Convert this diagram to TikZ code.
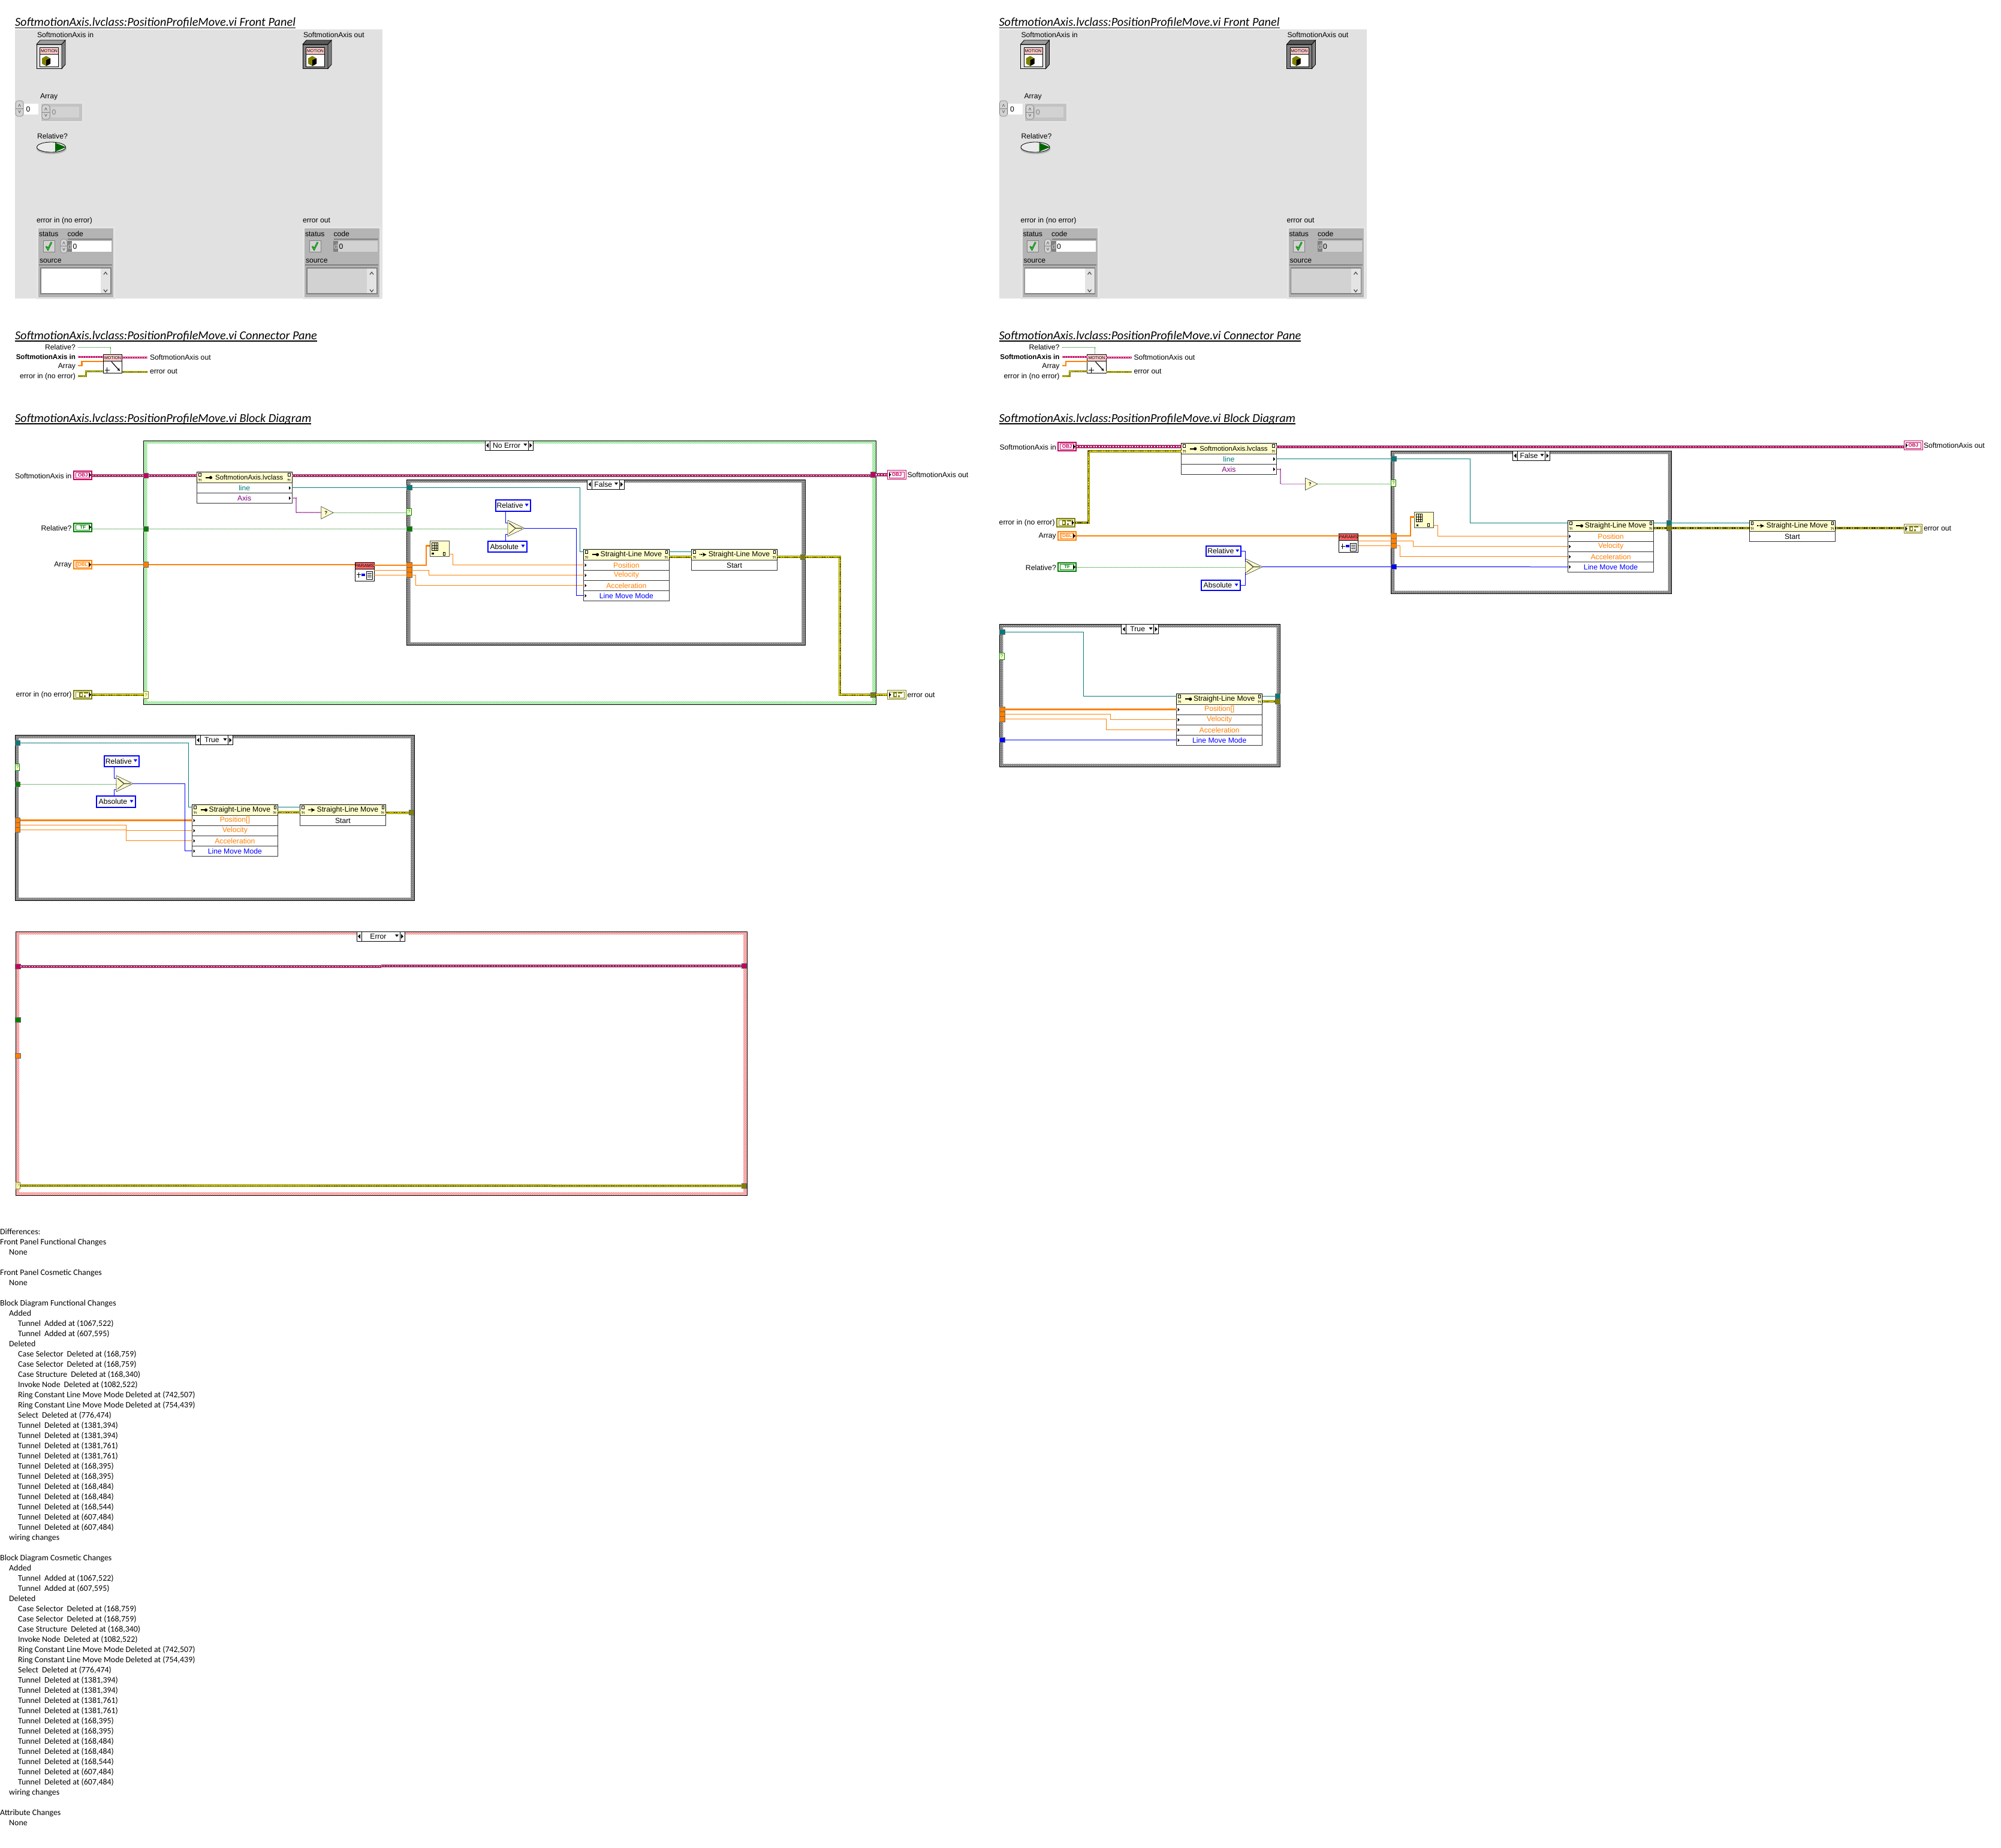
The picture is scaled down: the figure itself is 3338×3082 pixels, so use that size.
\documentclass[tikz,border=0pt]{standalone}
\usepackage{fontspec}
\setmainfont{Liberation Sans}
\newfontfamily\calfam{Carlito}
\usetikzlibrary{patterns}
\definecolor{cpink}{HTML}{C4005F}
\definecolor{colive}{HTML}{808000}
\definecolor{cgreen}{HTML}{008000}
\definecolor{corange}{HTML}{FF8000}
\definecolor{cteal}{HTML}{007C7C}
\definecolor{cblue}{HTML}{0000FF}
\definecolor{cpurple}{HTML}{800080}
\definecolor{cyell}{HTML}{FFFFCC}
\definecolor{panelgray}{HTML}{E1E1E1}
\definecolor{clustergray}{HTML}{B4B4B4}
\definecolor{fieldgray}{HTML}{D2D2D2}
\definecolor{hatchgreen}{HTML}{6CC46C}
\definecolor{hatchred}{HTML}{F06060}
\newcommand{\lblfont}{\fontsize{12.2}{14}\selectfont}
\newcommand{\clsfont}{\fontsize{11.4}{14}\selectfont}
\newcommand{\tinyfont}{\fontsize{8}{9}\selectfont}
\newcommand{\hdtxt}{SoftmotionAxis.lvclass:PositionProfileMove.vi}
\tikzset{
  lbl/.style={font=\lblfont, inner sep=0, outer sep=0},
  heading/.style={font=\calfam\itshape\fontsize{20.3}{24}\selectfont, inner sep=0, outer sep=0},
  headrule/.style={line width=1.5pt},
  difftext/.style={font=\calfam\fontsize{13.9}{17}\selectfont, inner sep=0, align=left},
  classwire/.style={draw=gray, line width=5.5pt, postaction={draw=cpink, line width=3.5pt}, postaction={draw=white, line width=1.2pt, dash pattern=on 2pt off 2.6pt}},
  classthin/.style={draw=cpink, line width=3pt, postaction={draw=white, line width=1pt, dash pattern=on 2pt off 2pt}},
  errwire/.style={draw=colive, line width=4pt, postaction={draw=yellow, line width=2pt}, postaction={draw=black, line width=1.2pt, dash pattern=on 1.4pt off 1.4pt}},
  errthin/.style={draw=colive, line width=3pt, postaction={draw=yellow, line width=1pt, dash pattern=on 1.4pt off 1.4pt}},
  wbool/.style={draw=cgreen, line width=1pt, dash pattern=on 1pt off 1pt},
  wdbl/.style={draw=corange, line width=1pt},
  warr/.style={draw=corange, line width=2.5pt},
  wteal/.style={draw=cteal, line width=1pt},
  wblue/.style={draw=cblue, line width=1pt},
  waxis/.style={draw=cpurple, line width=1.8pt, dash pattern=on 1pt off 1pt},
  tunnel/.style={draw=black!60, fill=#1, line width=.6pt, minimum width=8.5, minimum height=8.5, inner sep=0, outer sep=0},
  qtunnel/.style={draw=#1, fill=cyell, line width=.8pt, minimum width=7.5, minimum height=11.5, inner sep=0, outer sep=0, font=\tinyfont, text=#1},
  term/.style={draw=#1, fill=white, line width=2pt, minimum width=30, minimum height=14, inner sep=0, outer sep=1pt, text=#1, font=\tinyfont\bfseries},
  termo/.style={draw=#1, fill=white, line width=1pt, minimum width=30.5, minimum height=14.5, inner sep=0, outer sep=.5pt, text=#1, font=\tinyfont\bfseries},
  invhead/.style={draw=black, fill=cyell, line width=.9pt, minimum height=18, inner sep=0, outer sep=0, font=\lblfont},
  invrow/.style={draw=black!80, fill=white, line width=.9pt, minimum height=17, inner sep=0, outer sep=0, font=\lblfont},
  selbox/.style={draw=black, fill=white, line width=.8pt, minimum height=16, inner sep=0, outer sep=0, font=\lblfont},
  enumbox/.style={draw=cblue, fill=white, line width=2pt, minimum height=16.5, inner sep=0, outer sep=1pt, font=\lblfont},
  invisbox/.style={inner sep=0, outer sep=0},
  greenband/.style={fill=green!18!white, postaction={pattern=north east lines, pattern color=hatchgreen}},
  grayband/.style={fill=black!55, postaction={pattern=crosshatch dots, pattern color=white}},
  redband/.style={fill=red!18!white, postaction={pattern=north east lines, pattern color=hatchred}},
}
% case structure border
\newcommand{\caseframe}[5]{%
  \path[#5, even odd rule] (#1,#2) rectangle (#3,#4) ({#1+6},{#2+5}) rectangle ({#3-6},{#4-5});
  \draw[black, line width=1pt] (#1,#2) rectangle (#3,#4);
}
% case selector label
\newcommand{\caseselect}[5]{%
  \node[selbox, anchor=north west, minimum width=#3-#2] (#1) at (#2,#4) {#5\hspace*{8pt}};
  \draw[black, line width=.8pt] ([xshift=8pt]#1.north west) -- ([xshift=8pt]#1.south west);
  \draw[black, line width=.8pt] ([xshift=-8pt]#1.north east) -- ([xshift=-8pt]#1.south east);
  \fill[black] ([xshift=2pt]#1.west) -- ([xshift=6pt,yshift=4pt]#1.west) -- ([xshift=6pt,yshift=-4pt]#1.west) -- cycle;
  \fill[black] ([xshift=-2pt]#1.east) -- ([xshift=-6pt,yshift=4pt]#1.east) -- ([xshift=-6pt,yshift=-4pt]#1.east) -- cycle;
  \fill[black] ([xshift=-16pt,yshift=3pt]#1.east) -- ([xshift=-10pt,yshift=3pt]#1.east) -- ([xshift=-13pt,yshift=-1pt]#1.east) -- cycle;
}
% property or invoke node, header
\newcommand{\invhd}[5]{%
  \node[invhead, anchor=north west, minimum width=#3-#2] (#1) at (#2,#4) {\hspace*{16pt}#5};
  \draw[black, fill=white, line width=.5pt] ([xshift=3pt,yshift=7pt]#1.west) rectangle ([xshift=6.5pt,yshift=2.5pt]#1.west);
  \draw[black, fill=white, line width=.5pt] ([xshift=-6.5pt,yshift=7pt]#1.east) rectangle ([xshift=-3pt,yshift=2.5pt]#1.east);
  \node[invisbox, font=\fontsize{6}{6}\bfseries\selectfont] (#1l) at ([xshift=5pt,yshift=-5pt]#1.west) {?!};
  \node[invisbox, font=\fontsize{6}{6}\bfseries\selectfont] (#1r) at ([xshift=-5pt,yshift=-5pt]#1.east) {?!};
}
\newcommand{\keyicon}[1]{%
  \draw[black, line width=2pt] ([xshift=14pt]#1.west) -- ([xshift=21pt]#1.west);
  \fill[black] ([xshift=23pt]#1.west) circle (2.6);
}
\newcommand{\runicon}[1]{%
  \draw[black, line width=2pt, dash pattern=on 1.5pt off 1pt] ([xshift=13pt]#1.west) -- ([xshift=18pt]#1.west);
  \draw[black, line width=2pt, -stealth] ([xshift=18pt]#1.west) -- ([xshift=25pt]#1.west);
}
\newcommand{\invrw}[6]{%
  \node[invrow, anchor=north west, minimum width=#3-#2, text=#5] (#1) at (#2,#4) {#6};
}
\newcommand{\rowin}[1]{\fill[black] ([xshift=2pt,yshift=3pt]#1.west) -- ([xshift=5pt]#1.west) -- ([xshift=2pt,yshift=-3pt]#1.west) -- cycle;}
\newcommand{\rowout}[1]{\fill[black] ([xshift=-5pt,yshift=3pt]#1.east) -- ([xshift=-2pt]#1.east) -- ([xshift=-5pt,yshift=-3pt]#1.east) -- cycle;}
% the four rows of a straight-line move
\newcommand{\moverows}[5]{%
  \invrw{#1p}{#2}{#3}{#4}{corange}{#5}\rowin{#1p}
  \invrw{#1v}{#2}{#3}{#4+17}{corange}{Velocity}\rowin{#1v}
  \invrw{#1a}{#2}{#3}{#4+34}{corange}{Acceleration}\rowin{#1a}
  \invrw{#1m}{#2}{#3}{#4+51}{cblue}{Line Move Mode}\rowin{#1m}
}
% terminals
\newcommand{\termin}[5]{%
  \node[term=#4] (#1) at (#2,#3) {#5};
  \draw[#4, line width=.8pt] ([xshift=-11.5pt,yshift=-4.5pt]#1.center) rectangle ([xshift=11.5pt,yshift=4.5pt]#1.center);
  \fill[black] ([xshift=10pt,yshift=3.5pt]#1.center) -- ([xshift=14pt]#1.center) -- ([xshift=10pt,yshift=-3.5pt]#1.center) -- cycle;
}
\newcommand{\termout}[5]{%
  \node[termo=#4] (#1) at (#2,#3) {#5};
  \draw[#4, line width=.6pt] ([xshift=-12.5pt,yshift=-5pt]#1.center) rectangle ([xshift=12.5pt,yshift=5pt]#1.center);
  \fill[black] ([xshift=-13pt,yshift=3.5pt]#1.center) -- ([xshift=-9.5pt]#1.center) -- ([xshift=-13pt,yshift=-3.5pt]#1.center) -- cycle;
}
\newcommand{\errglyph}[1]{%
  \fill[colive] ([xshift=-6pt,yshift=-4pt]#1.center) rectangle ([xshift=0pt,yshift=4pt]#1.center);
  \fill[white] ([xshift=-4.5pt,yshift=-2pt]#1.center) rectangle ([xshift=-1.5pt,yshift=2pt]#1.center);
  \fill[colive] ([xshift=2pt,yshift=2pt]#1.center) rectangle ([xshift=9pt,yshift=4pt]#1.center);
  \fill[colive] ([xshift=2pt,yshift=-4pt]#1.center) rectangle ([xshift=5pt,yshift=-1pt]#1.center);
}
% primitive triangle and select
\newcommand{\prim}[5]{%
  \node[invisbox, anchor=north west, minimum width=#4-#2, minimum height=#5-#3] (#1) at (#2,#3) {};
  \draw[black!70, fill=cyell, line width=.7pt] (#1.north west) -- (#1.east) -- (#1.south west) -- cycle;
  \node[invisbox, font=\tinyfont\bfseries] (#1q) at ([xshift=8pt]#1.west) {?};
}
\newcommand{\selectprim}[5]{%
  \node[invisbox, anchor=north west, minimum width=#4-#2, minimum height=#5-#3] (#1) at (#2,#3) {};
  \draw[black!70, fill=cyell, line width=.7pt] (#1.north west) -- (#1.east) -- (#1.south west) -- cycle;
  \draw[black!70, line width=1.5pt] ([xshift=2pt,yshift=9pt]#1.west) -- ([xshift=13pt]#1.west) -- ([xshift=24pt]#1.west);
  \draw[black!70, line width=1pt] ([xshift=2pt,yshift=-9pt]#1.west) -- ([xshift=13pt]#1.west);
}
\newcommand{\ringconst}[6]{%
  \node[enumbox, anchor=north west, minimum width=#4-#2, minimum height=#5-#3] (#1) at (#2,#3) {#6\hspace*{10pt}};
  \fill[cblue] ([xshift=-10pt,yshift=3pt]#1.east) -- ([xshift=-4pt,yshift=3pt]#1.east) -- ([xshift=-7pt,yshift=-1.5pt]#1.east) -- cycle;
}
% parameter bundle and array glyph
\newcommand{\paramnode}[3]{%
  \node[draw=black, fill=white, line width=.8pt, anchor=north west, minimum width=32, minimum height=31.4, inner sep=0, outer sep=0] (#1) at (#2,#3) {};
  \node[draw=black, fill=red!60!white, line width=.8pt, anchor=north, minimum width=32, minimum height=11.4, inner sep=0, outer sep=0, font=\fontsize{7.6}{8}\selectfont] (#1top) at (#1.north) {PARAMS};
  \draw[black, line width=.8pt] ([xshift=-13pt,yshift=-5pt]#1.center) -- ([xshift=-6pt,yshift=-5pt]#1.center) ([xshift=-10pt,yshift=-1pt]#1.center) -- ([xshift=-10pt,yshift=-10pt]#1.center);
  \fill[cblue] ([xshift=-5pt,yshift=-3pt]#1.center) rectangle ([xshift=1pt,yshift=-7pt]#1.center);
  \draw[black, fill=white, line width=.6pt] ([xshift=3pt,yshift=0pt]#1.center) rectangle ([xshift=13pt,yshift=-13pt]#1.center);
  \draw[black, line width=.7pt] ([xshift=4.5pt,yshift=-3pt]#1.center) -- ([xshift=11.5pt,yshift=-3pt]#1.center) ([xshift=4.5pt,yshift=-6pt]#1.center) -- ([xshift=11.5pt,yshift=-6pt]#1.center) ([xshift=4.5pt,yshift=-9pt]#1.center) -- ([xshift=11.5pt,yshift=-9pt]#1.center);
}
\newcommand{\arrnode}[3]{%
  \node[draw=black!70, fill=cyell, line width=.8pt, anchor=north west, minimum width=32, minimum height=26.5, inner sep=0, outer sep=0] (#1) at (#2,#3) {};
  \draw[black, line width=.5pt] ([xshift=-13pt,yshift=10pt]#1.center) rectangle ([xshift=-3pt,yshift=-3pt]#1.center) ([xshift=-9pt,yshift=10pt]#1.center) -- ([xshift=-9pt,yshift=-3pt]#1.center) ([xshift=-6pt,yshift=10pt]#1.center) -- ([xshift=-6pt,yshift=-3pt]#1.center) ([xshift=-13pt,yshift=5pt]#1.center) -- ([xshift=-3pt,yshift=5pt]#1.center) ([xshift=-13pt,yshift=1pt]#1.center) -- ([xshift=-3pt,yshift=1pt]#1.center);
  \fill[black] ([xshift=-13pt,yshift=-7pt]#1.center) rectangle ([xshift=-9.5pt,yshift=-10pt]#1.center);
  \draw[black, line width=.7pt] ([xshift=6pt,yshift=-6pt]#1.center) rectangle ([xshift=9pt,yshift=-11pt]#1.center);
}
% front panel pieces
\newcommand{\objicon}[4]{%
  \node[invisbox, anchor=north west, minimum width=42, minimum height=40.5, draw=black, fill=#4, line width=.8pt] (#1) at (#2,#3+7) {};
  \draw[black, fill=#4!70!black, line width=.8pt] (#1.north west) -- ++(6,-7) -- ++(42,0) -- (#1.north east) -- cycle;
  \draw[black, fill=gray, line width=.8pt] (#1.north east) -- ++(6,-7) -- ++(0,40.5) -- (#1.south east) -- cycle;
  \node[draw=black, fill=white, line width=.8pt, minimum width=31, minimum height=32, inner sep=0, outer sep=0] (#1b) at ([yshift=-1pt]#1.center) {};
  \node[draw=black, fill=red!20!white, line width=.6pt, anchor=north, minimum width=31, minimum height=10.5, inner sep=0, font=\fontsize{7}{8}\selectfont] (#1t) at (#1b.north) {MOTION};
  \fill[colive] ([xshift=-12pt,yshift=-2pt]#1b.center) -- ([xshift=-5pt,yshift=2pt]#1b.center) -- ([xshift=2pt,yshift=-2pt]#1b.center) -- ([xshift=2pt,yshift=-11pt]#1b.center) -- ([xshift=-5pt,yshift=-15pt]#1b.center) -- ([xshift=-12pt,yshift=-11pt]#1b.center) -- cycle;
  \fill[black] ([xshift=-5pt,yshift=-5pt]#1b.center) -- ([xshift=2pt,yshift=-2pt]#1b.center) -- ([xshift=2pt,yshift=-11pt]#1b.center) -- ([xshift=-5pt,yshift=-15pt]#1b.center) -- cycle;
}
\newcommand{\spinner}[4]{%
  \draw[gray, fill=fieldgray, rounded corners=4pt, line width=.6pt] (#1,#2) rectangle (#3,#4);
  \draw[gray, line width=.5pt] (#1,{(#2+#4)/2}) -- (#3,{(#2+#4)/2});
  \draw[gray!60!black, line width=.5pt] ({(#1+#3)/2-2},{(#2+#4)/2-3}) -- ({(#1+#3)/2},{(#2+#4)/2-7}) -- ({(#1+#3)/2+2},{(#2+#4)/2-3});
  \draw[gray!60!black, line width=.5pt] ({(#1+#3)/2-2},{(#2+#4)/2+3}) -- ({(#1+#3)/2},{(#2+#4)/2+7}) -- ({(#1+#3)/2+2},{(#2+#4)/2+3});
}
\newcommand{\errcluster}[2]{%
  \begin{scope}[xshift=#1 pt]
  \draw[black!10, fill=clustergray, line width=3pt] (62.5,379.5) rectangle (190.5,497);
  \draw[gray, line width=1.5pt] (113,399) -- (187,399) (65,442) -- (187,442);
  \node[lbl, anchor=west] (#1st) at (65,391) {status};
  \node[lbl, anchor=west] (#1co) at (112.5,390) {code};
  \draw[black!50, fill=fieldgray, line width=.8pt] (72,401) rectangle (91,420);
  \draw[black, line width=2.4pt] (77,411) -- (80,416) -- (86,404);
  \draw[green, line width=1.2pt] (77,411) -- (80,416) -- (86,404);
  \fill[#2] (112,402) rectangle (186,420);
  \fill[gray] (112,402) rectangle (120,420);
  \node[lbl, text=gray!40] (#1d) at (116.5,411) {d};
  \node[lbl] (#1zero) at (125,411) {0};
  \node[lbl, anchor=west] (#1so) at (66,435) {source};
  \draw[gray, fill=#2, line width=1.5pt] (68,447) rectangle (185,490);
  \fill[fieldgray!60!white] (168,448) rectangle (184,489);
  \draw[black!70, line width=1.2pt] (173,458) -- (176,454) -- (179,458) (173,483) -- (176,487) -- (179,483);
  \end{scope}
}
\newcommand{\frontpanel}{%
  \node[heading, anchor=base west] (fphead) at (25,43.5) {\hdtxt{} Front Panel};
  \draw[headrule] ([yshift=-3.2pt]fphead.base west) -- ([yshift=-3.2pt]fphead.base east);
  \fill[panelgray] (25,49) rectangle (638,498);
  \node[lbl, anchor=west] (fpin) at (62,58) {SoftmotionAxis in};
  \node[lbl, anchor=west] (fpout) at (506,58) {SoftmotionAxis out};
  \objicon{icA}{61}{67}{panelgray}
  \objicon{icB}{505}{67}{gray}
  \node[lbl, anchor=west] (fparr) at (67,162) {Array};
  \spinner{26}{168}{39}{194}
  \fill[white] (40,173) rectangle (64,191);
  \node[lbl] (fpidx) at (47,182) {0};
  \draw[black!10, fill=clustergray!80!white, line width=2pt] (67.5,172) rectangle (138,203);
  \fill[fieldgray] (85,178) rectangle (132,196);
  \spinner{70}{175}{83}{199}
  \node[lbl, text=gray] (fpval) at (90,187) {0};
  \node[lbl, anchor=west] (fprel) at (62,227) {Relative?};
  \fill[gray!60] (86,248) ellipse (25 and 9);
  \draw[black, fill=panelgray!70!white, line width=.8pt] (85.5,245.5) ellipse (24 and 8.5);
  \fill[green!40!black] (92,238) -- (110,245.5) -- (92,253) -- cycle;
  \node[lbl, anchor=west] (fperr) at (61,368) {error in (no error)};
  \errcluster{0}{white}
  \spinner{101}{399}{112}{422}
  \node[lbl, anchor=west] (fperro) at (505,368) {error out};
  \errcluster{444}{fieldgray}
}
\newcommand{\connpane}{%
  \node[heading, anchor=base west] (cphead) at (25,566) {\hdtxt{} Connector Pane};
  \draw[headrule] ([yshift=-3.2pt]cphead.base west) -- ([yshift=-3.2pt]cphead.base east);
  \node[draw=black, fill=white, line width=.8pt, minimum width=31.5, minimum height=31, inner sep=0, outer sep=0] (cpicon) at (188,606.5) {};
  \node[draw=black, fill=red!20!white, line width=.6pt, anchor=north, minimum width=31.5, minimum height=11, inner sep=0, font=\fontsize{7}{8}\selectfont] (cpicont) at (cpicon.north) {MOTION};
  \draw[black, line width=.8pt] (174.5,617) -- (183,617) (178.8,612.5) -- (178.8,621.5);
  \draw[black, line width=1.2pt, -stealth] (186,603.5) -- (200,619);
  \node[lbl, anchor=east] (cprel) at (126,579.5) {Relative?};
  \node[lbl, anchor=east, font=\fontsize{11.6}{14}\selectfont\bfseries] (cpin) at (126,595.5) {SoftmotionAxis in};
  \node[lbl, anchor=east] (cparr) at (126,612) {Array};
  \node[lbl, anchor=east] (cperr) at (126,628) {error in (no error)};
  \node[lbl, anchor=west] (cpout) at (250,596) {SoftmotionAxis out};
  \node[lbl, anchor=west] (cpeout) at (250,620) {error out};
  \draw[wbool] ([xshift=4pt]cprel.east) -| ([xshift=-3.5pt]cpicon.north);
  \draw[classthin] ([xshift=4pt]cpin.east) -- (cpicon.west |- cpin);
  \draw[warr] ([xshift=4pt,yshift=2pt]cparr.east) -- ++(6.5,0) |- ([yshift=3.5pt]cpicon.west);
  \draw[errthin] ([xshift=4pt,yshift=1pt]cperr.east) -- ++(13,0) |- ([yshift=-13pt]cpicon.west);
  \draw[classthin] (cpicon.east |- cpout) -- ([xshift=-4pt]cpout.west);
  \draw[errthin] (cpicon.east |- cpeout) -- ([xshift=-4pt]cpeout.west);
}
\newcommand{\tn}[1]{\hspace*{30pt}Tunnel\hspace*{0.2em} #1\\}
\newcommand{\cg}[1]{\hspace*{30pt}#1\\}
\newcommand{\changelist}{%
\hspace*{15pt}Added\\
\tn{Added at (1067,522)}
\tn{Added at (607,595)}
\hspace*{15pt}Deleted\\
\cg{Case Selector\hspace*{0.2em} Deleted at (168,759)}
\cg{Case Selector\hspace*{0.2em} Deleted at (168,759)}
\cg{Case Structure\hspace*{0.2em} Deleted at (168,340)}
\cg{Invoke Node\hspace*{0.2em} Deleted at (1082,522)}
\cg{Ring Constant Line Move Mode Deleted at (742,507)}
\cg{Ring Constant Line Move Mode Deleted at (754,439)}
\cg{Select\hspace*{0.2em} Deleted at (776,474)}
\tn{Deleted at (1381,394)}
\tn{Deleted at (1381,394)}
\tn{Deleted at (1381,761)}
\tn{Deleted at (1381,761)}
\tn{Deleted at (168,395)}
\tn{Deleted at (168,395)}
\tn{Deleted at (168,484)}
\tn{Deleted at (168,484)}
\tn{Deleted at (168,544)}
\tn{Deleted at (607,484)}
\tn{Deleted at (607,484)}
\hspace*{15pt}wiring changes\\
}
\begin{document}
\begin{tikzpicture}[x=1pt,y=-1pt]
\useasboundingbox (0,0) rectangle (3338,3082);
% both front panels and connector panes
\frontpanel
\connpane
\begin{scope}[xshift=1641.5pt]
\frontpanel
\connpane
\end{scope}
% block diagram, left
\node[heading, anchor=base west] (bdA) at (25,704) {\hdtxt{} Block Diagram};
\draw[headrule] ([yshift=-3.2pt]bdA.base west) -- ([yshift=-3.2pt]bdA.base east);
\caseframe{239.5}{735}{1461}{1175}{greenband}
\caseframe{678.6}{800}{1343.4}{1076.7}{grayband}
\node[lbl, anchor=east] (lClsIn) at (119.5,794) {SoftmotionAxis in};
\node[lbl, anchor=east] (lRelIn) at (119.5,881) {Relative?};
\node[lbl, anchor=east] (lArrIn) at (119.5,943) {Array};
\node[lbl, anchor=east] (lErrIn) at (119.5,1159.5) {error in (no error)};
\node[lbl, anchor=west] (lClsOut) at (1513.5,792) {SoftmotionAxis out};
\node[lbl, anchor=west] (lErrOut) at (1513.5,1159.5) {error out};
\termin{tClsIn}{138.3}{792.5}{cpink}{OBJ}
\termin{tRelIn}{138.3}{879.5}{cgreen}{TF}
\termin{tArrIn}{138.3}{942}{corange}{[DBL]}
\termin{tErrIn}{138.3}{1159}{colive}{}\errglyph{tErrIn}
\termout{tClsOut}{1496}{791.8}{cpink}{OBJ}
\termout{tErrOut}{1496}{1159}{colive}{}\errglyph{tErrOut}
\node[tunnel=cpink] (a1) at (243.5,793.5) {};
\node[tunnel=cgreen] (a2) at (243.5,882.5) {};
\node[tunnel=corange] (a3) at (243.5,942) {};
\node[qtunnel=colive] (a4) at (243.5,1159.3) {?};
\node[tunnel=cpink] (a5) at (1456.5,792) {};
\node[tunnel=colive] (a6) at (1456.5,1159.3) {};
\node[tunnel=cteal] (b1) at (682.8,813.4) {};
\node[qtunnel=cgreen] (b2) at (682.3,854) {?};
\node[tunnel=cgreen] (b3) at (682.8,882.5) {};
\node[tunnel=corange] (b4) at (682.8,943) {};
\node[tunnel=corange] (b5) at (682.8,951) {};
\node[tunnel=corange] (b6) at (682.8,959) {};
\node[tunnel=colive] (b7) at (1339.2,929.3) {};
% invoke nodes
\invhd{clsA}{328.5}{487}{787.7}{\clsfont SoftmotionAxis.lvclass}\keyicon{clsA}
\invrw{clsAl}{328.5}{487}{805.7}{cteal}{line}\rowout{clsAl}
\invrw{clsAx}{328.5}{487}{822.7}{cpurple}{Axis}\rowout{clsAx}
\invhd{slA}{973.5}{1116.3}{916.3}{Straight-Line Move}\keyicon{slA}
\moverows{slA}{973.5}{1116.3}{934.3}{Position}
\invhd{stA}{1153.6}{1296.4}{916.3}{Straight-Line Move}\runicon{stA}
\invrw{stAs}{1153.6}{1296.4}{934.3}{black}{Start}
\prim{notA}{535.7}{845}{556}{865.7}
\paramnode{parA}{592}{938}
\arrnode{arrA}{717}{902}
\ringconst{relA}{825.5}{833}{883.7}{851.7}{Relative}
\ringconst{absA}{813}{901.7}{877.5}{919.7}{Absolute}
\selectprim{selA}{847}{868}{875}{894.7}
\caseselect{csA}{809}{889.3}{735}{No Error}
\caseselect{csB}{979.6}{1041}{800}{False}
% wires, left
\draw[classwire] (tClsIn.east |- a1) -- (a1.west);
\draw[classwire] (a1.east) -- (clsA.west |- a1);
\draw[classwire] ([yshift=3pt]clsA.east) -- ([yshift=3pt]clsA.east -| a5.west);
\draw[classwire] (a5.east) -- (tClsOut.west |- a5);
\draw[wteal] (clsAl.east |- b1) -- (b1.west);
\draw[wteal] (b1.east) -- ++(280,0) |- ([yshift=5pt]slA.west);
\draw[wteal] ([yshift=5pt]slA.east) -- ([yshift=5pt]stA.west);
\draw[waxis] (clsAx.east) -- ++(7,0) |- (notA.west);
\draw[wbool] (notA.east) -- (b2.west |- notA);
\draw[wbool] (tRelIn.east |- a2) -- (a2.west);
\draw[wbool] (a2.east) -- (b3.west);
\draw[wbool] (b3.east) -- (selA.west |- b3);
\draw[warr] (tArrIn.east |- a3) -- (a3.west);
\draw[warr] (a3.east) -- (parA.west |- a3);
\draw[warr] (parA.east |- b4) -- (b4.west);
\draw[wdbl] (parA.east |- b5) -- (b5.west);
\draw[wdbl] (parA.east |- b6) -- (b6.west);
\draw[warr] (b4.east) -- ++(24,0) |- ([yshift=5pt]arrA.west);
\draw[wdbl] ([yshift=-9pt]arrA.east) -- ++(6.6,0) |- (slAp.west);
\draw[wdbl] (b5.east) -- ++(28,0) |- (slAv.west);
\draw[wdbl] (b6.east) -- ++(6,0) |- (slAa.west);
\draw[wblue] ([xshift=-3.6pt]selA.west |- relA.south) |- ([yshift=9pt]selA.west);
\draw[wblue] ([xshift=-3.6pt]selA.west |- absA.north) |- ([yshift=-10pt]selA.west);
\draw[wblue] (selA.east) -- ++(86.7,0) |- (slAm.west);
\draw[errwire] ([yshift=-4pt]slA.east) -- ([yshift=-4pt]stA.west);
\draw[errwire] (stA.east |- b7) -- (b7.west);
\draw[errwire] (b7.east) -- ++(58,0) |- (a6.west);
\draw[errwire] (a6.east) -- (tErrOut.west |- a6);
\draw[errwire] (tErrIn.east |- a4) -- (a4.west);
% true case, left
\caseframe{25}{1226.7}{691}{1502.7}{grayband}
\node[tunnel=cteal] (c1) at (29.5,1239.5) {};
\node[qtunnel=cgreen] (c2) at (29,1280) {?};
\node[tunnel=cgreen] (c3) at (29.5,1308.5) {};
\node[tunnel=corange] (c4) at (29.5,1368.3) {};
\node[tunnel=corange] (c5) at (29.5,1376.3) {};
\node[tunnel=corange] (c6) at (29.5,1384.5) {};
\node[tunnel=colive] (c7) at (686.5,1355.5) {};
\invhd{slC}{320.5}{463.3}{1342.3}{Straight-Line Move}\keyicon{slC}
\moverows{slC}{320.5}{463.3}{1360.3}{Position[]}
\invhd{stC}{500.5}{643.3}{1342.3}{Straight-Line Move}\runicon{stC}
\invrw{stCs}{500.5}{643.3}{1360.3}{black}{Start}
\ringconst{relC}{172.6}{1259.7}{231}{1277.7}{Relative}
\ringconst{absC}{160.2}{1327.3}{224.5}{1345.7}{Absolute}
\selectprim{selC}{194}{1294}{222}{1320.7}
\caseselect{csC}{326.4}{388.4}{1226.7}{True}
\draw[wteal] (c1.east) -- ++(281,0) |- ([yshift=5pt]slC.west);
\draw[wteal] ([yshift=5pt]slC.east) -- ([yshift=5pt]stC.west);
\draw[wbool] (c3.east) -- (selC.west |- c3);
\draw[warr] (c4.east) -- (slCp.west |- c4);
\draw[wdbl] (c5.east) -- ++(176.7,0) |- (slCv.west);
\draw[wdbl] (c6.east) -- ++(176.3,0) |- (slCa.west);
\draw[wblue] ([xshift=-3.5pt]selC.west |- relC.south) |- ([yshift=9pt]selC.west);
\draw[wblue] ([xshift=-3.5pt]selC.west |- absC.north) |- ([yshift=-10pt]selC.west);
\draw[wblue] (selC.east) -- ++(86.5,0) |- (slCm.west);
\draw[errwire] ([yshift=-4pt]slC.east) -- ([yshift=-4pt]stC.west);
\draw[errwire] (stC.east |- c7) -- (c7.west);
% error case, left
\caseframe{26}{1554}{1246}{1994}{redband}
\node[tunnel=cpink] (e1) at (30,1612.5) {};
\node[tunnel=cgreen] (e2) at (30,1701.3) {};
\node[tunnel=corange] (e3) at (30,1761.3) {};
\node[qtunnel=colive] (e4) at (30,1978) {?};
\node[tunnel=cpink] (e5) at (1241.5,1611.5) {};
\node[tunnel=colive] (e6) at (1241.5,1978.3) {};
\coordinate (ebrk) at (635.6,1612);
\caseselect{csE}{595}{675}{1554}{Error}
\draw[classwire] (e1.east) -- (ebrk |- e1);
\draw[classwire] (ebrk |- e5) -- (e5.west);
\draw[errwire] (e4.east) -- (e6.west);
% block diagram, right
\node[heading, anchor=base west] (bdB) at (1666.5,704) {\hdtxt{} Block Diagram};
\draw[headrule] ([yshift=-3.2pt]bdB.base west) -- ([yshift=-3.2pt]bdB.base east);
\caseframe{2320.4}{752.3}{2788.6}{990.7}{grayband}
\node[lbl, anchor=east] (rClsIn) at (1761.8,745.7) {SoftmotionAxis in};
\node[lbl, anchor=east] (rErrIn) at (1759.6,872) {error in (no error)};
\node[lbl, anchor=east] (rArrIn) at (1761.8,895) {Array};
\node[lbl, anchor=east] (rRelIn) at (1761.8,947) {Relative?};
\node[lbl, anchor=west] (rClsOut) at (3209,743) {SoftmotionAxis out};
\node[lbl, anchor=west] (rErrOut) at (3209,882) {error out};
\termin{uClsIn}{1780.2}{745}{cpink}{OBJ}
\termin{uErrIn}{1777.8}{872}{colive}{}\errglyph{uErrIn}
\termin{uArrIn}{1780.2}{894}{corange}{[DBL]}
\termin{uRelIn}{1780.2}{946}{cgreen}{TF}
\termout{uClsOut}{3191.8}{743}{cpink}{OBJ}
\termout{uErrOut}{3191.3}{882}{colive}{}\errglyph{uErrOut}
\node[tunnel=cteal] (f1) at (2324.8,765.3) {};
\node[qtunnel=cgreen] (f2) at (2324.5,806) {?};
\node[tunnel=corange] (f3) at (2324.8,894) {};
\node[tunnel=corange] (f4) at (2324.8,902.3) {};
\node[tunnel=corange] (f5) at (2324.8,910.5) {};
\node[tunnel=cblue] (f6) at (2324.8,945.5) {};
\node[tunnel=cteal] (f7) at (2784.3,872.4) {};
\node[tunnel=colive] (f8) at (2784.3,881) {};
\invhd{clsB}{1970.7}{2129.2}{739.7}{\clsfont SoftmotionAxis.lvclass}\keyicon{clsB}
\invrw{clsBl}{1970.7}{2129.2}{757.3}{cteal}{line}\rowout{clsBl}
\invrw{clsBx}{1970.7}{2129.2}{774.3}{cpurple}{Axis}\rowout{clsBx}
\invhd{slB}{2615.4}{2758.7}{868.3}{Straight-Line Move}\keyicon{slB}
\moverows{slB}{2615.4}{2758.7}{886.3}{Position}
\invhd{stB}{2918}{3061.7}{868.3}{Straight-Line Move}\runicon{stB}
\invrw{stBs}{2918}{3061.7}{886.3}{black}{Start}
\prim{notB}{2177.4}{797.3}{2197.8}{817.7}
\paramnode{parB}{2233.6}{890.3}
\arrnode{arrB}{2359.5}{854.3}
\ringconst{relB}{2011.4}{909.7}{2069.2}{927.3}{Relative}
\ringconst{absB}{2003.3}{966.7}{2067.6}{984.3}{Absolute}
\selectprim{selB}{2077.8}{932.3}{2106}{959}
\caseselect{csF}{2523.5}{2585.5}{752.3}{False}
% wires, right
\draw[classwire] (uClsIn.east) -- (clsB.west |- uClsIn);
\draw[classwire] ([yshift=3pt]clsB.east) -- ([yshift=3pt]clsB.east -| uClsOut.west);
\draw[errwire] (uErrIn.east) -- ++(22,0) |- ([yshift=-4pt]clsB.west);
\draw[wteal] (clsBl.east |- f1) -- (f1.west);
\draw[wteal] (f1.east) -- ++(123,0) |- ([yshift=5pt]slB.west);
\draw[wteal] (slB.east |- f7) -- (f7.west);
\draw[wteal] (f7.east) -- (stB.west |- f7);
\draw[waxis] (clsBx.east) -- ++(7,0) |- (notB.west);
\draw[wbool] (notB.east) -- (f2.west |- notB);
\draw[warr] (uArrIn.east) -- (parB.west |- uArrIn);
\draw[warr] (parB.east |- f3) -- (f3.west);
\draw[wdbl] (parB.east |- f4) -- (f4.west);
\draw[wdbl] (parB.east |- f5) -- (f5.west);
\draw[warr] (f3.east) -- ++(24,0) |- ([yshift=5pt]arrB.west);
\draw[wdbl] ([yshift=-9pt]arrB.east) -- ++(6.6,0) |- (slBp.west);
\draw[wdbl] (f4.east) -- ++(28.4,0) |- (slBv.west);
\draw[wdbl] (f5.east) -- ++(6.4,0) |- (slBa.west);
\draw[wbool] (uRelIn.east) -- (selB.west |- uRelIn);
\draw[wblue] (relB.east) -- ++(6.4,0) |- ([yshift=9pt]selB.west);
\draw[wblue] (absB.east) -- ++(8,0) |- ([yshift=-10pt]selB.west);
\draw[wblue] (selB.east) -- (f6.west);
\draw[wblue] (f6.east) -- (slBm.west);
\draw[errwire] (slB.east |- f8) -- (f8.west);
\draw[errwire] (f8.east) -- (stB.west |- f8);
\draw[errwire] (stB.east |- f8) -- (uErrOut.west |- f8);
% true case, right
\caseframe{1667.3}{1041.7}{2135.7}{1279.3}{grayband}
\node[tunnel=cteal] (g1) at (1671.7,1054.4) {};
\node[qtunnel=cgreen] (g2) at (1671.2,1095) {?};
\node[tunnel=corange] (g3) at (1671.7,1183.7) {};
\node[tunnel=corange] (g4) at (1671.7,1191.7) {};
\node[tunnel=corange] (g5) at (1671.7,1199.7) {};
\node[tunnel=cblue] (g6) at (1671.7,1234.5) {};
\node[tunnel=cteal] (g7) at (2131.5,1161.5) {};
\node[tunnel=colive] (g8) at (2131.5,1170.2) {};
\invhd{slD}{1962.7}{2105.7}{1157.3}{Straight-Line Move}\keyicon{slD}
\moverows{slD}{1962.7}{2105.7}{1175.3}{Position[]}
\caseselect{csG}{1870.7}{1932.7}{1041.7}{True}
\draw[wteal] (g1.east) -- ++(131.3,0) |- (slD.west |- g7);
\draw[wteal] (slD.east |- g7) -- (g7.west);
\draw[warr] (g3.east) -- (slDp.west |- g3);
\draw[wdbl] (g4.east) -- ++(176.7,0) |- (slDv.west);
\draw[wdbl] (g5.east) -- ++(169.3,0) |- (slDa.west);
\draw[wblue] (g6.east) -- (slDm.west |- g6);
\draw[errwire] (slD.east |- g8) -- (g8.west);
% list of differences
\node[difftext, anchor=north west] (diffs) at (0,2050) {Differences:\\
Front Panel Functional Changes\\
\hspace*{15pt}None\\
\mbox{}\\
Front Panel Cosmetic Changes\\
\hspace*{15pt}None\\
\mbox{}\\
Block Diagram Functional Changes\\
\changelist
\mbox{}\\
Block Diagram Cosmetic Changes\\
\changelist
\mbox{}\\
Attribute Changes\\
\hspace*{15pt}None};
\end{tikzpicture}
\end{document}
